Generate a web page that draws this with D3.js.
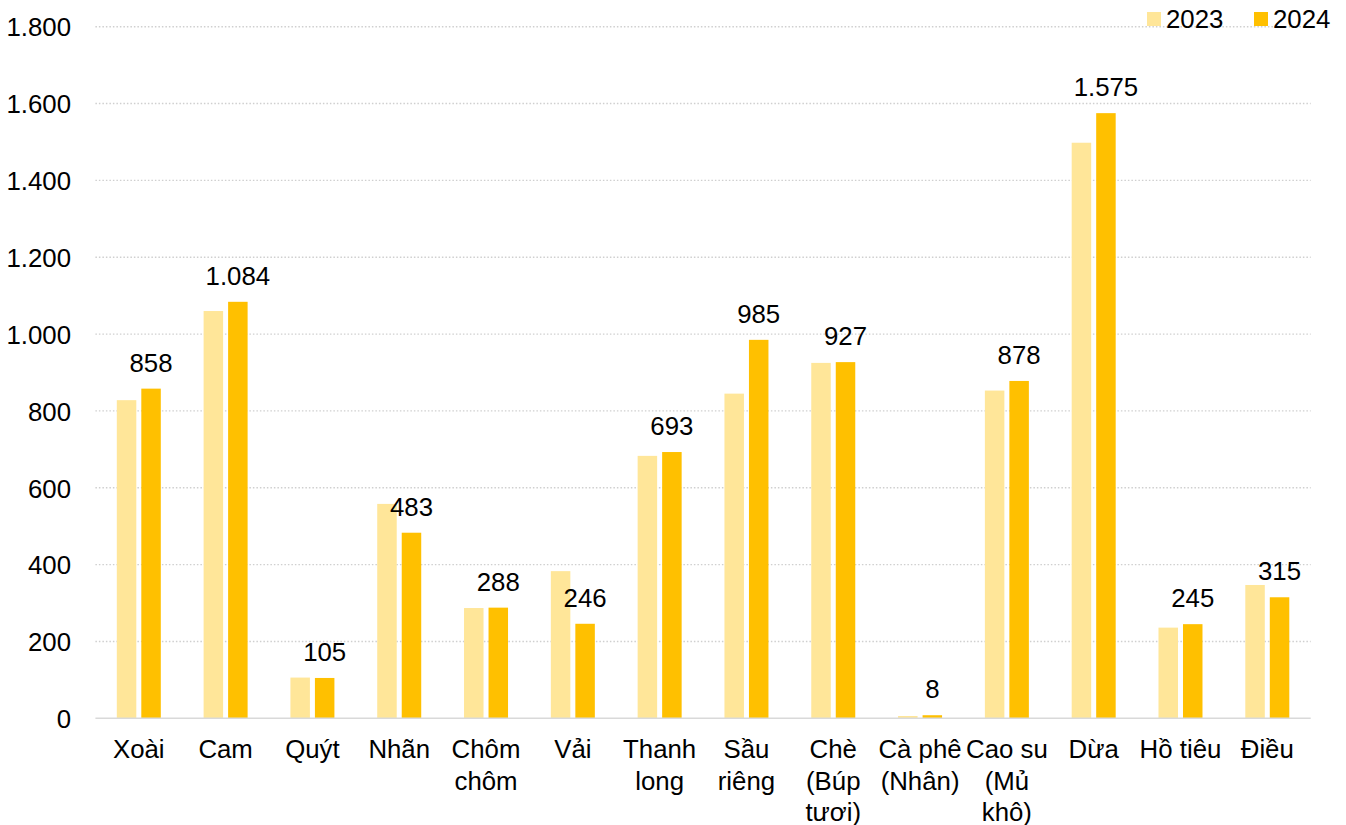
<!DOCTYPE html>
<html>
<head>
<meta charset="utf-8">
<script src="https://cdn.jsdelivr.net/npm/d3@7"></script>
<style>
  html, body { margin: 0; padding: 0; background: #fff; }
  svg { display: block; font-family: "Liberation Sans", Arial, sans-serif; }
</style>
</head>
<body>
<svg id="chart" width="1346" height="825"></svg>
<script>
const categories = ["Xoài", "Cam", "Quýt", "Nhãn", "Chôm chôm", "Vải", "Thanh long", "Sầu riêng",
  "Chè (Búp tươi)", "Cà phê (Nhân)", "Cao su (Mủ khô)", "Dừa", "Hồ tiêu", "Điều"];
const seriesNames = ["2023", "2024"];
const values2023 = [828, 1060, 106, 558, 287, 383, 683, 845, 925, 6, 853, 1498, 236, 347];
const values2024 = [858, 1084, 105, 483, 288, 246, 693, 985, 927, 8, 878, 1575, 245, 315];
const yTicks = [0, 200, 400, 600, 800, 1000, 1200, 1400, 1600, 1800];

const colors = ["#FFE699", "#FFC000"];
const FS = 25.8;

const svg = d3.select("#chart");
const margin = { left: 95.4, right: 1346 - 1310.7, top: 26.7, bottom: 825 - 718.3 };
const W = 1346, H = 825;

const locale = d3.formatLocale({ decimal: ",", thousands: ".", grouping: [3], currency: ["", ""] });
const fmt = locale.format(",.0f");

const x = d3.scaleBand().domain(categories).range([margin.left, W - margin.right]).paddingInner(0).paddingOuter(0);
const y = d3.scaleLinear().domain([0, 1800]).range([H - margin.bottom, margin.top]);

const barW = 19.5, gap = 5;
const x1 = d3.scaleOrdinal().domain(seriesNames).range([-(gap / 2) - barW, gap / 2]);

// grid
svg.append("g").selectAll("line").data(yTicks.filter(d => d > 0)).join("line")
  .attr("x1", margin.left).attr("x2", W - margin.right)
  .attr("y1", d => y(d)).attr("y2", d => y(d))
  .attr("stroke", "#CFCFCF").attr("stroke-width", 1.4).attr("stroke-dasharray", "1.5,2");

// y tick labels
const yAxis = d3.axisLeft(y).tickValues(yTicks).tickFormat(fmt).tickSize(0).tickPadding(0);
const gy = svg.append("g").attr("transform", `translate(71,0)`).call(yAxis);
gy.select(".domain").remove();
gy.selectAll("text").attr("font-size", FS).attr("fill", "#000")
  .attr("font-family", "'Liberation Sans', Arial, sans-serif").attr("dy", "0.36em");

// bars
const rows = categories.map((c, i) => ({ c, v: [values2023[i], values2024[i]] }));
const g = svg.append("g");
seriesNames.forEach((s, si) => {
  g.append("g").selectAll("rect").data(rows).join("rect")
    .attr("x", d => x(d.c) + x.bandwidth() / 2 + x1(s))
    .attr("width", barW)
    .attr("y", d => y(d.v[si]))
    .attr("height", d => y(0) - y(d.v[si]))
    .attr("fill", colors[si]);
});

// axis baseline
svg.append("line").attr("x1", margin.left).attr("x2", W - margin.right)
  .attr("y1", y(0)).attr("y2", y(0)).attr("stroke", "#D9D9D9").attr("stroke-width", 1.5);

// data labels for 2024
svg.append("g").selectAll("text").data(rows).join("text")
  .attr("x", d => x(d.c) + x.bandwidth() / 2 + x1("2024") + barW / 2)
  .attr("y", d => y(d.v[1]) - 17)
  .attr("text-anchor", "middle").attr("font-size", FS).attr("fill", "#000")
  .text(d => fmt(d.v[1]));

// category labels with wrapping
const maxW = 92;
const xg = svg.append("g");
categories.forEach(c => {
  const t = xg.append("text").attr("text-anchor", "middle").attr("font-size", FS).attr("fill", "#000")
    .attr("x", x(c) + x.bandwidth() / 2).attr("y", 758);
  const words = c.split(" ");
  let lines = [], cur = [];
  const probe = t.append("tspan");
  words.forEach(w => {
    const test = cur.concat([w]).join(" ");
    probe.text(test);
    if (probe.node().getComputedTextLength() > maxW && cur.length) {
      lines.push(cur.join(" "));
      cur = [w];
    } else cur.push(w);
  });
  lines.push(cur.join(" "));
  probe.remove();
  lines.forEach((l, i) => {
    t.append("tspan").attr("x", x(c) + x.bandwidth() / 2).attr("dy", i === 0 ? 0 : 31.5).text(l);
  });
});

// legend
const lg = svg.append("g");
const legendX = [1147, 1254];
seriesNames.forEach((s, i) => {
  lg.append("rect").attr("x", legendX[i]).attr("y", 12).attr("width", 14).attr("height", 14).attr("fill", colors[i]);
  lg.append("text").attr("x", legendX[i] + 19).attr("y", 27.5).attr("font-size", FS).attr("fill", "#000").text(s);
});
</script>
</body>
</html>
